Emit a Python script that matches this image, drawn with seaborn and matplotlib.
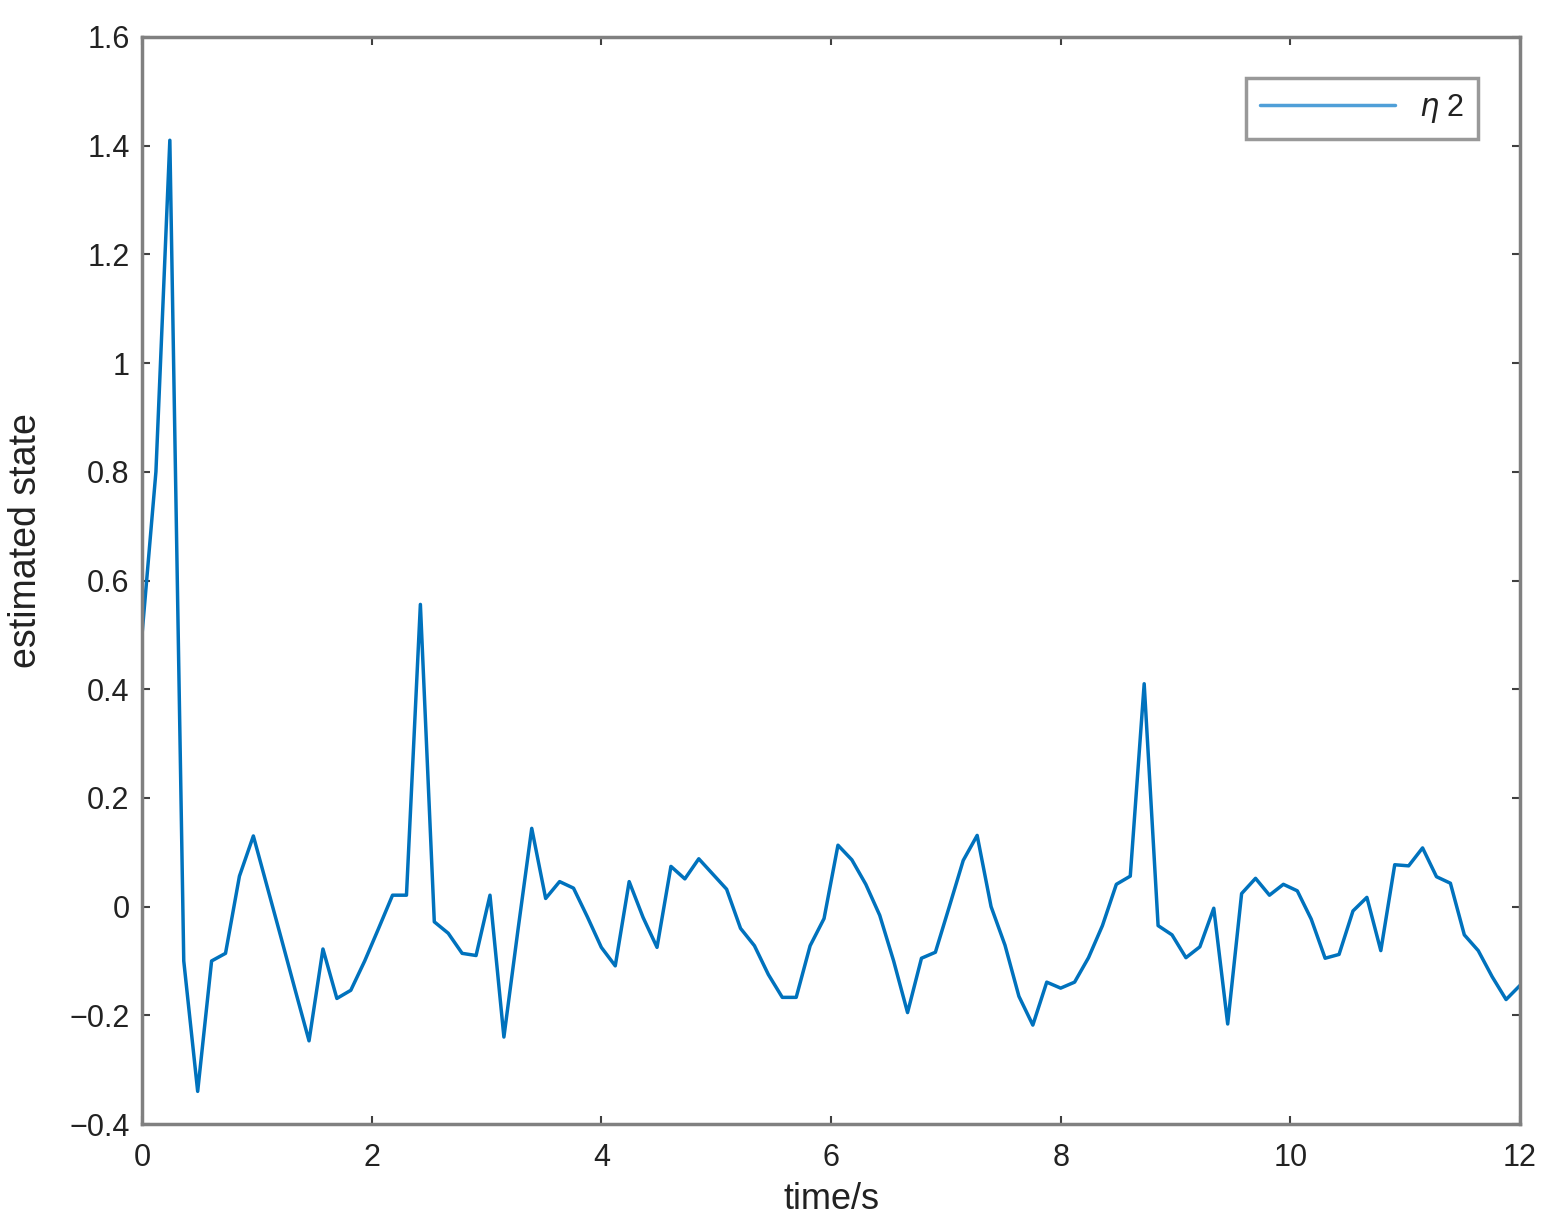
import numpy as np
import matplotlib
matplotlib.use("Agg")
import matplotlib.pyplot as plt
import seaborn as sns

# sample times (100 samples over 12 s) and estimated state eta2
time_s = np.linspace(0, 12, 100)
eta2 = [
    0.50, 0.80, 1.41, -0.10, -0.34, -0.10, -0.086, 0.056, 0.13, 0.036,
    -0.058, -0.153, -0.247, -0.078, -0.169, -0.154, -0.10, -0.04, 0.021, 0.021,
    0.556, -0.028, -0.049, -0.086, -0.09, 0.021, -0.24, -0.045, 0.144, 0.015,
    0.046, 0.034, -0.019, -0.075, -0.109, 0.046, -0.02, -0.075, 0.074, 0.051,
    0.088, 0.06, 0.032, -0.04, -0.072, -0.125, -0.167, -0.167, -0.072, -0.022,
    0.113, 0.086, 0.041, -0.016, -0.10, -0.195, -0.095, -0.084, 0.0, 0.085,
    0.131, 0.0, -0.071, -0.165, -0.218, -0.139, -0.15, -0.139, -0.094, -0.035,
    0.041, 0.056, 0.41, -0.035, -0.052, -0.094, -0.074, -0.003, -0.216, 0.024,
    0.052, 0.021, 0.041, 0.029, -0.023, -0.095, -0.088, -0.008, 0.017, -0.081,
    0.077, 0.075, 0.108, 0.055, 0.043, -0.052, -0.081, -0.129, -0.171, -0.145,
]

x_ticks = [0, 2, 4, 6, 8, 10, 12]
y_ticks = [-0.4, -0.2, 0, 0.2, 0.4, 0.6, 0.8, 1.0, 1.2, 1.4, 1.6]
y_tick_labels = ['\u22120.4', '\u22120.2', '0', '0.2', '0.4', '0.6', '0.8',
                 '1', '1.2', '1.4', '1.6']

sns.set_style("ticks")
plt.rcParams['font.family'] = ['Liberation Sans', 'DejaVu Sans']

W, H = 1550, 1228
fig = plt.figure(figsize=(W / 100, H / 100), dpi=100)
ax = fig.add_axes([142 / W, 1 - 1124 / H, 1378 / W, 1087 / H])

sns.lineplot(x=time_s, y=eta2, ax=ax, color='#0072BD', linewidth=2.5,
             label=r'$\eta$ 2')

ax.set_xlim(0, 12)
ax.set_ylim(-0.4, 1.6)
ax.set_xticks(x_ticks)
ax.set_xticklabels([str(v) for v in x_ticks])
ax.set_yticks(y_ticks)
ax.set_yticklabels(y_tick_labels)

ax.tick_params(direction='in', top=True, right=True, length=6, width=1.5,
               color='#404040', labelsize=22, labelcolor='#222222')
ax.tick_params(axis='x', pad=14)
ax.tick_params(axis='y', pad=9)
for spine in ax.spines.values():
    spine.set_visible(True)
    spine.set_color('#808080')
    spine.set_linewidth(2.5)

ax.set_xlabel('time/s', fontsize=26, color='#222222')
ax.xaxis.set_label_coords(0.5, -(1182 - 1124) / 1087)
ax.set_ylabel('estimated state', fontsize=27, color='#222222')
ax.yaxis.set_label_coords(-0.071, (1124 - 541) / 1087)

leg = ax.legend(loc='upper right', bbox_to_anchor=((1478 - 142) / 1378, (1124 - 78) / 1087),
                frameon=True, fancybox=False, edgecolor='#808080', fontsize=22,
                handlelength=4.4, handletextpad=0.8, borderpad=0.45, borderaxespad=0)
leg.get_frame().set_linewidth(2.5)
leg.get_lines()[0].set_color('#4f9fd8')
for text in leg.get_texts():
    text.set_color('#222222')

fig.savefig('out.png', dpi=100)
